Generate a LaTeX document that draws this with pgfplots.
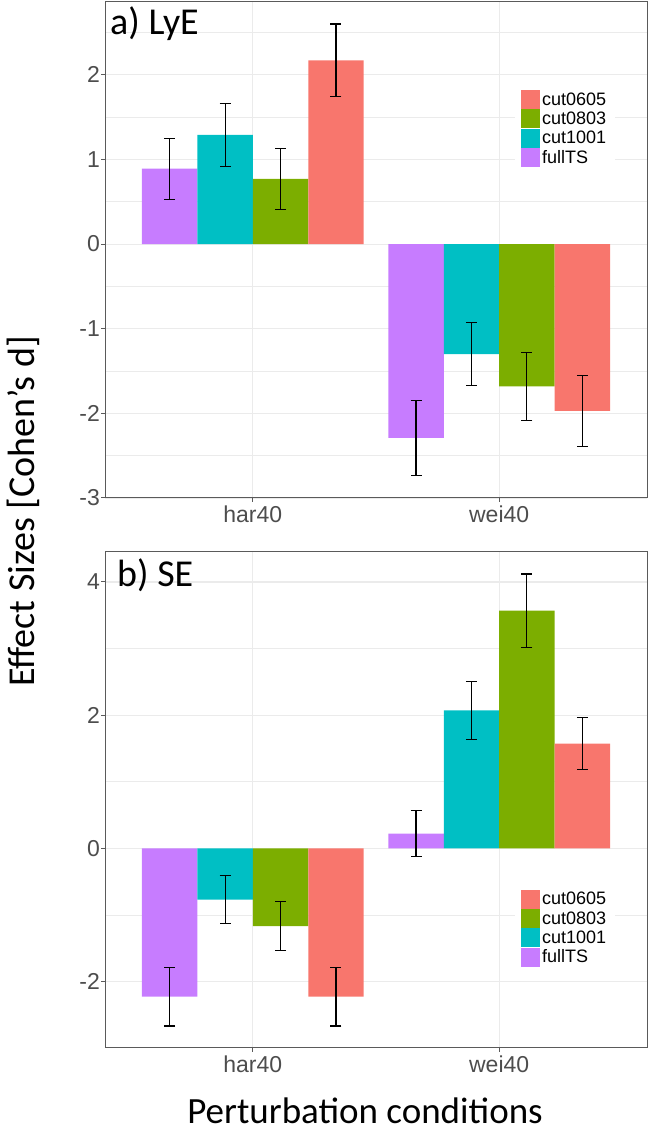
\documentclass[border=0pt]{standalone}
\usepackage{pgfplots}
\pgfplotsset{compat=1.18}
\usepackage{fontspec}
\setmainfont{Liberation Sans}
\newfontfamily\calibri{Carlito}
\definecolor{cA}{HTML}{F8766D}
\definecolor{cB}{HTML}{7CAE00}
\definecolor{cC}{HTML}{00BFC4}
\definecolor{cD}{HTML}{C77CFF}
\definecolor{gridc}{HTML}{EBEBEB}
\definecolor{txtg}{HTML}{4D4D4D}
\definecolor{bordc}{HTML}{5A5A5A}
\pgfplotsset{panel/.style={
  scale only axis, width=542pt, height=496pt,
  xmin=0.4, xmax=2.6, xtick={1,2}, xticklabels={har40,wei40},
  ybar, bar width=0.225,
  legend image code/.code={\fill[##1] (0pt,-9.5pt) rectangle (19pt,9.5pt);},
  axis line style={bordc, line width=1pt},
  tick style={bordc, line width=1pt}, tick align=outside, major tick length=4pt,
  minor tick length=0pt, tick pos=left,
  grid=both, major grid style={gridc, line width=1.1pt}, minor grid style={gridc, line width=0.55pt},
  ticklabel style={font=\fontsize{23}{23}\selectfont, text=txtg},
  yticklabel style={inner xsep=1pt},
  xticklabel style={inner ysep=4pt},
  legend style={draw=none, fill=white, font=\fontsize{18}{18}\selectfont, inner sep=6pt,
     row sep=0.3pt, nodes={inner xsep=2.5pt, inner ysep=0pt},
     anchor=north west},
  reverse legend, legend cell align=left,
  error bars/y dir=both, error bars/y explicit,
  error bars/error bar style={black, line width=1.1pt},
  error bars/error mark options={black, line width=1.1pt, mark size=5.5pt, rotate=90},
}}
\begin{document}
\begin{tikzpicture}[x=1pt,y=1pt]
\path (0,0) rectangle (650,1131);
% ---------------- a) LyE ----------------
\begin{axis}[panel, at={(105pt,633pt)}, anchor=south west,
  ymin=-3.0, ymax=2.86, ytick={-3,-2,-1,0,1,2}, yticklabels={-3,-2,-1,0,1,2},
  minor ytick={-2.5,-1.5,-0.5,0.5,1.5,2.5},
  legend style={at={(0.7555,0.835)}}]
\addplot[fill=cD, draw=none, bar shift=0] coordinates {(0.6625,0.89) +- (0,0.36) (1.6625,-2.29) +- (0,0.44)};
\addplot[fill=cC, draw=none, bar shift=0] coordinates {(0.8875,1.29) +- (0,0.375) (1.8875,-1.30) +- (0,0.375)};
\addplot[fill=cB, draw=none, bar shift=0] coordinates {(1.1125,0.77) +- (0,0.36) (2.1125,-1.68) +- (0,0.40)};
\addplot[fill=cA, draw=none, bar shift=0] coordinates {(1.3375,2.17) +- (0,0.43) (2.3375,-1.97) +- (0,0.42)};
\legend{fullTS,cut1001,cut0803,cut0605}
\end{axis}
% ---------------- b) SE ----------------
\begin{axis}[panel, at={(105pt,83pt)}, anchor=south west,
  ymin=-3.0, ymax=4.45, ytick={-2,0,2,4}, yticklabels={-2,0,2,4},
  minor ytick={-1,1,3},
  legend style={at={(0.7555,0.3317)}}]
\addplot[fill=cD, draw=none, bar shift=0] coordinates {(0.6625,-2.23) +- (0,0.44) (1.6625,0.22) +- (0,0.345)};
\addplot[fill=cC, draw=none, bar shift=0] coordinates {(0.8875,-0.77) +- (0,0.355) (1.8875,2.07) +- (0,0.43)};
\addplot[fill=cB, draw=none, bar shift=0] coordinates {(1.1125,-1.17) +- (0,0.37) (2.1125,3.57) +- (0,0.55)};
\addplot[fill=cA, draw=none, bar shift=0] coordinates {(1.3375,-2.23) +- (0,0.44) (2.3375,1.57) +- (0,0.39)};
\legend{fullTS,cut1001,cut0803,cut0605}
\end{axis}
% labels
\node[anchor=base west, inner sep=0, font=\calibri\fontsize{38}{38}\selectfont] at (110,1096) {a) LyE};
\node[anchor=base west, inner sep=0, font=\calibri\fontsize{38}{38}\selectfont] at (117,544) {b) SE};
\node[anchor=base, inner sep=0, rotate=90, font=\calibri\fontsize{38}{38}\selectfont] at (34,619.5) {Effect Sizes [Cohen’s d]};
\node[anchor=base, inner sep=0, font=\calibri\fontsize{37}{37}\selectfont] at (365,8) {Perturbation conditions};
\end{tikzpicture}
\end{document}
